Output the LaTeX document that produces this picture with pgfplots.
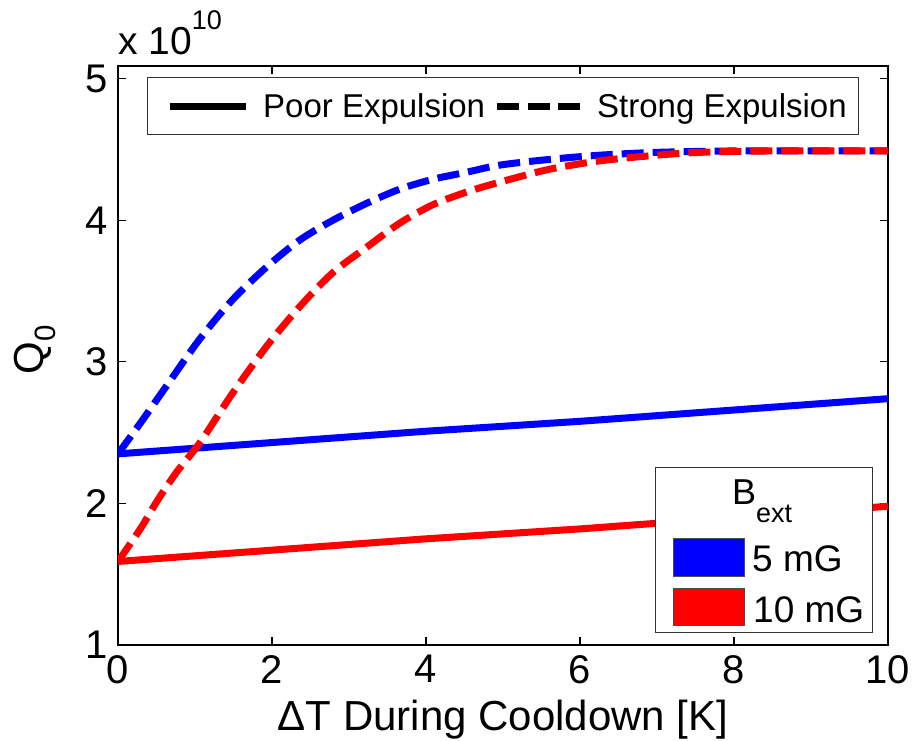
\documentclass[border=0pt]{standalone}
\usepackage{fontspec}
\setmainfont{Liberation Sans}
\usepackage{pgfplots}
\pgfplotsset{compat=1.18}
\definecolor{mblue}{RGB}{0,0,255}
\definecolor{mred}{RGB}{255,0,0}
\begin{document}
\begin{tikzpicture}[x=1pt,y=1pt]
\useasboundingbox (-118,-96) rectangle (801,645);
\begin{axis}[
  at={(0,0)}, anchor=south west,
  scale only axis, width=770pt, height=579pt,
  xmin=0, xmax=10, ymin=1, ymax=5.09,
  xtick={0,2,4,6,8,10}, ytick={1,2,3,4,5},
  tick align=inside, major tick length=8pt,
  axis line style={line width=1.5pt, black},
  tick style={line width=1.2pt, black},
  /pgf/number format/assume math mode=true,
  scaled ticks=false,
  tick label style={font=\fontsize{40}{46}\selectfont, inner sep=0pt},
  xticklabel style={yshift=-10pt},
  yticklabel style={xshift=-10pt},
  xlabel={ΔT During Cooldown [K]},
  xlabel style={font=\fontsize{42}{48}\selectfont, at={(axis description cs:0.5,-0.148)}, anchor=base, inner sep=0pt},
  ylabel={Q\textsubscript{0}},
  ylabel style={font=\fontsize{42}{48}\selectfont, at={(axis description cs:-0.108,0.51)}, anchor=center, inner sep=0pt},
]
% Poor expulsion, 5 mG
\addplot[mblue, line width=7pt] coordinates {
 (0,2.35) (2,2.43) (4,2.51) (6,2.58) (8,2.66) (10,2.74)};
% Poor expulsion, 10 mG
\addplot[mred, line width=7pt] coordinates {
 (0,1.59) (2,1.67) (4,1.75) (6,1.82) (8,1.90) (10,1.98)};
% Strong expulsion, 5 mG
\addplot[mblue, line width=7pt, dash pattern=on 22pt off 9pt, smooth] coordinates {
 (0,2.35) (0.32,2.59) (0.63,2.83) (1.06,3.16) (1.49,3.44) (1.93,3.67)
 (2.36,3.86) (2.79,4.00) (3.23,4.12) (3.66,4.22) (4.09,4.29) (4.53,4.34)
 (4.96,4.39) (5.6,4.43) (6.26,4.46) (7,4.48) (8,4.49) (9,4.49) (10,4.49)};
% Strong expulsion, 10 mG
\addplot[mred, line width=7pt, dash pattern=on 22pt off 9pt, smooth] coordinates {
 (0,1.59) (0.29,1.82) (0.5,2.01) (0.76,2.22) (1.065,2.43) (1.49,2.78)
 (1.93,3.11) (2.36,3.39) (2.79,3.63) (3.23,3.81) (3.66,3.98) (4.09,4.11)
 (4.53,4.20) (4.96,4.27) (5.6,4.36) (6.26,4.42) (7,4.46) (7.56,4.48)
 (8.5,4.49) (10,4.49)};
\end{axis}
% multiplier
\node[anchor=base west, inner sep=0pt, font=\fontsize{39}{44}\selectfont] at (0,590)
  {x 10\raisebox{25pt}{\fontsize{27}{30}\selectfont 10}};
% legend 1 (line styles)
\draw[line width=1pt, fill=white, draw=black!80] (30,510) rectangle (740,567);
\draw[line width=7pt, black] (52,538) -- (128,538);
\node[anchor=base west, inner sep=0pt, font=\fontsize{33}{38}\selectfont] at (145,527) {Poor Expulsion};
\draw[line width=7pt, black, dash pattern=on 22pt off 8.5pt] (379,538) -- (462,538);
\node[anchor=base west, inner sep=0pt, font=\fontsize{33}{38}\selectfont] at (479,527) {Strong Expulsion};
% legend 2 (field)
\draw[line width=1pt, fill=white, draw=black!80] (537,12) rectangle (754,177);
\node[anchor=base west, inner sep=0pt] at (614,140)
  {\fontsize{36}{40}\selectfont B\raisebox{-18pt}{\fontsize{27}{30}\selectfont ext}};
\draw[fill=mblue, draw=black!70, line width=0.8pt] (555,69) rectangle (626,107);
\draw[fill=mred, draw=black!70, line width=0.8pt] (555,20) rectangle (626,57);
\node[anchor=base west, inner sep=0pt, font=\fontsize{37}{42}\selectfont] at (634,73) {5 mG};
\node[anchor=base west, inner sep=0pt, font=\fontsize{37}{42}\selectfont] at (635,22) {10 mG};
\end{tikzpicture}
\end{document}
